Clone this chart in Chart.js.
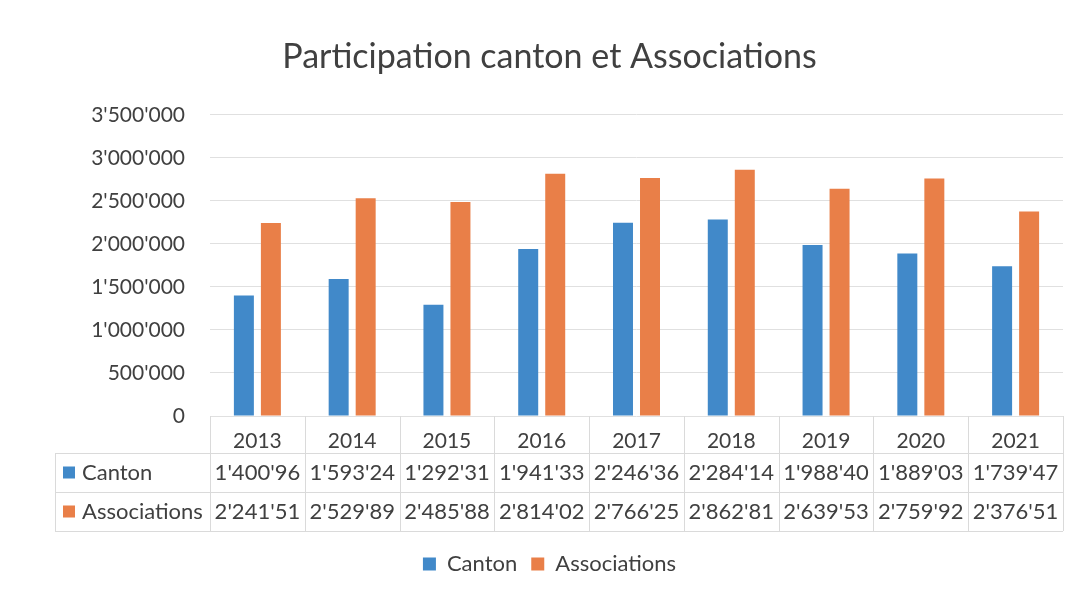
<!DOCTYPE html>
<html>
<head>
<meta charset="utf-8">
<script src="https://cdn.jsdelivr.net/npm/chart.js@4"></script>
<style>
  html, body { margin: 0; padding: 0; background: #fff; }
  #wrap { width: 1078px; height: 597px; }
</style>
</head>
<body>
<div id="wrap"><canvas id="barChart" width="1078" height="597"></canvas></div>
<script>
const years = ['2013', '2014', '2015', '2016', '2017', '2018', '2019', '2020', '2021'];
const canton = [1400960, 1593240, 1292310, 1941330, 2246360, 2284140, 1988400, 1889030, 1739470];
const associations = [2241510, 2529890, 2485880, 2814020, 2766250, 2862810, 2639530, 2759920, 2376510];
const yTicks = [0, 500000, 1000000, 1500000, 2000000, 2500000, 3000000, 3500000];

const blue = '#4189c9';
const orange = '#e97f48';
const textCol = '#404040';
const fontFam = 'Lato, "Open Sans", sans-serif';

// swiss style thousands: 1'400'960
function fmt(v) {
    return String(Math.round(v)).replace(/\B(?=(\d{3})+(?!\d))/g, "'");
}

// the data table under the axis (cells are clipped in the original, last digit hidden)
const tablePlugin = {
    id: 'dataTable',
    afterDraw(chart) {
        const ctx = chart.ctx;
        const x = chart.scales.x;
        const area = chart.chartArea;
        const n = years.length;
        const colW = (area.right - area.left) / n;
        const top = area.bottom;
        const rows = [top + 37, top + 76, top + 115];
        const leftEdge = 55;

        ctx.save();
        ctx.strokeStyle = '#dadada';
        ctx.lineWidth = 1;
        ctx.beginPath();
        rows.forEach(y => {
            ctx.moveTo(leftEdge, y + 0.5);
            ctx.lineTo(area.right, y + 0.5);
        });
        for (let i = 0; i <= n; i++) {
            const bx = Math.round(area.left + i * colW) + 0.5;
            ctx.moveTo(bx, top);
            ctx.lineTo(bx, rows[2]);
        }
        ctx.moveTo(leftEdge + 0.5, rows[0]);
        ctx.lineTo(leftEdge + 0.5, rows[2]);
        ctx.stroke();

        ctx.font = '22px ' + fontFam;
        ctx.fillStyle = textCol;
        ctx.textBaseline = 'middle';
        const series = [[canton, blue, 'Canton'], [associations, orange, 'Associations']];
        series.forEach((s, r) => {
            const cy = (rows[r] + rows[r + 1]) / 2;
            ctx.fillStyle = s[1];
            ctx.fillRect(leftEdge + 8, cy - 6, 12, 12);
            ctx.fillStyle = textCol;
            ctx.textAlign = 'left';
            ctx.fillText(s[2], leftEdge + 27, cy);
            ctx.textAlign = 'center';
            s[0].forEach((v, i) => {
                ctx.fillText(fmt(v).slice(0, -1), x.getPixelForValue(i), cy);
            });
        });
        ctx.restore();
    }
};

new Chart(document.getElementById('barChart'), {
    type: 'bar',
    data: {
        labels: years,
        datasets: [
            { label: 'Canton', data: canton, backgroundColor: blue,
              categoryPercentage: 0.57, barPercentage: 0.74 },
            { label: 'Associations', data: associations, backgroundColor: orange,
              categoryPercentage: 0.57, barPercentage: 0.74 }
        ]
    },
    plugins: [tablePlugin],
    options: {
        responsive: false,
        animation: false,
        layout: { padding: { left: 36, right: 15, top: 0, bottom: 12 } },
        plugins: {
            title: {
                display: true,
                text: 'Participation canton et Associations',
                color: textCol,
                font: { family: fontFam, size: 34, weight: 'normal' },
                padding: { top: 37, bottom: 37 }
            },
            legend: {
                position: 'bottom',
                labels: {
                    color: textCol,
                    font: { family: fontFam, size: 22 },
                    boxWidth: 13, boxHeight: 13, padding: 14
                }
            },
            tooltip: { enabled: false }
        },
        scales: {
            x: {
                grid: { display: false },
                border: { display: false },
                ticks: { color: textCol, font: { family: fontFam, size: 21 }, padding: 5 },
                afterFit: s => { s.height = 123; }
            },
            y: {
                min: 0,
                max: 3500000,
                afterBuildTicks: s => { s.ticks = yTicks.map(v => ({ value: v })); },
                grid: { color: '#e0e0e0', drawTicks: false },
                border: { display: false },
                ticks: {
                    color: textCol,
                    font: { family: fontFam, size: 21 },
                    padding: 25,
                    callback: v => fmt(v)
                },
                afterFit: s => { s.width = 174; }
            }
        }
    }
});
</script>
</body>
</html>
